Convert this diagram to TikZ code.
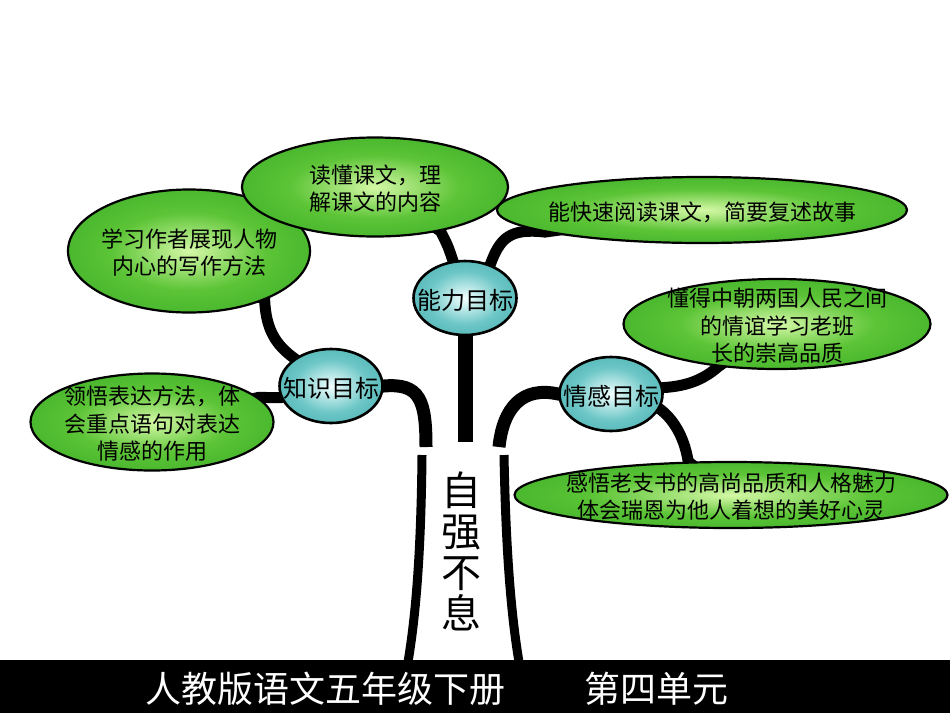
\documentclass[tikz,border=0pt]{standalone}
\usepackage{fontspec}
\usepackage{xcolor}
\setmainfont{Noto Sans CJK SC}
\usetikzlibrary{shapes.geometric,backgrounds}
\definecolor{leaflight}{HTML}{D4F8A6}
\definecolor{leafmid}{HTML}{5CC436}
\definecolor{leafgreen}{HTML}{1A961A}
\definecolor{goallight}{HTML}{F2FFFF}
\definecolor{goalmid}{HTML}{6CC6C6}
\definecolor{goalteal}{HTML}{229696}
\pgfdeclareradialshading{leafshade}{\pgfpoint{0bp}{0bp}}{%
  color(0bp)=(leaflight); color(16bp)=(leafmid); color(50bp)=(leafgreen)}
\pgfdeclareradialshading{goalshade}{\pgfpoint{0bp}{0bp}}{%
  color(0bp)=(goallight); color(18bp)=(goalmid); color(50bp)=(goalteal)}
% text that does not widen the ellipse
\newcommand{\inset}[1]{\makebox[0pt]{\smash{\raisebox{-0.45em}{\begin{tabular}{@{}c@{}}#1\end{tabular}}}}}

\begin{document}
\begin{tikzpicture}[
        x=1pt, y=-1pt,
        leaf/.style={
          ellipse,
          draw,
          line width=2.2pt,
          shading=leafshade,
          inner sep=0pt,
          font=\fontsize{22}{27.5}\selectfont
        },
        goal/.style={
          ellipse,
          draw,
          line width=2.6pt,
          shading=goalshade,
          inner sep=0pt,
          minimum width=103pt,
          minimum height=74pt,
          font=\fontsize{24}{24}\selectfont
        },
        stem/.style={
          line width=11pt
        },
        branch/.style={
          line width=13pt
        },
        trunk/.style={
          line width=9pt
        }
      ]

      \useasboundingbox (0,0) rectangle (950,713);

      % leaves
      \node[leaf, minimum width=242pt, minimum height=123pt] (xuexi) at (189,251) {
        \inset{学习作者展现人物\\内心的写作方法}
      };

      \node[leaf, minimum width=410pt, minimum height=66pt] (kuaisu) at (702,210) {
        \inset{能快速阅读课文，简要复述故事}
      };

      \node[leaf, minimum width=266pt, minimum height=99pt] (dudong) at (375,187) {
        \inset{读懂课文，理\\解课文的内容}
      };

      \node[leaf, minimum width=243pt, minimum height=97pt] (lingwu) at (152,422) {
        \inset{领悟表达方法，体\\会重点语句对表达\\情感的作用}
      };

      \node[leaf, minimum width=307pt, minimum height=90pt] (dongde) at (777,324) {
        \inset{懂得中朝两国人民之间\\的情谊学习老班\\长的崇高品质}
      };

      \node[leaf, minimum width=433pt, minimum height=66pt] (ganwu) at (731,495) {
        \inset{感悟老支书的高尚品质和人格魅力\\体会瑞恩为他人着想的美好心灵}
      };

      % goals
      \node[goal] (nengli) at (465,298) {\inset{能力目标}};
      \node[goal] (zhishi) at (331,386) {\inset{知识目标}};
      \node[goal] (qinggan) at (611,394) {\inset{情感目标}};

      % trunk ends
      \coordinate (lend) at (426,447);
      \coordinate (mend) at (465,442);
      \coordinate (rend) at (499,447);
      \coordinate (ltop) at (422,455);
      \coordinate (lfoot) at (408,662);
      \coordinate (rtop) at (504,455);
      \coordinate (rfoot) at (519,662);

      \node[font=\fontsize{40}{41}\selectfont, align=center] (motto) at (461,551) {
        自\\强\\不\\息
      };

      \begin{pgfonlayer}{background}
        \fill[white] (0,0) rectangle (950,713);

        \draw[stem] (nengli.center) -- (nengli.108) .. controls (448,246) .. (dudong.-34) -- (dudong.center);
        \draw[stem] (nengli.center) -- (nengli.53) .. controls (500,238) and (510,228) .. (kuaisu.188) -- (kuaisu.center);
        \draw[stem] (zhishi.center) -- (zhishi.143) .. controls (276,345) and (266,330) .. (xuexi.-33) -- (xuexi.center);
        \draw[stem] (zhishi.center) -- (zhishi.193) -- (lingwu.13) -- (lingwu.center);
        \draw[stem] (qinggan.center) -- (qinggan.7) .. controls (690,386) and (705,378) .. (dongde.216) -- (dongde.center);
        \draw[stem] (qinggan.center) -- (qinggan.-17) .. controls (672,418) and (684,435) .. (ganwu.142) -- (ganwu.center);

        \draw[branch] (zhishi.center) -- (zhishi.east) .. controls (420,383) and (426,400) .. (lend);
        \draw[branch, line width=15pt] (nengli.center) -- (mend);
        \draw[branch] (qinggan.center) -- (qinggan.west) .. controls (522,386) and (503,408) .. (rend);

        \draw[trunk] (ltop) .. controls (421,560) and (415,620) .. (lfoot);
        \draw[trunk] (rtop) .. controls (506,560) and (512,620) .. (rfoot);
      \end{pgfonlayer}

      % title bar
      \node[fill=black, minimum width=950pt, minimum height=53pt, inner sep=0pt, anchor=north west] (bar) at (0,660) {};
      \node[text=white, font=\fontsize{36}{36}\selectfont] (title) at (437,689) {
        人教版语文五年级下册\hspace{2.2em}第四单元
      };

      \end{tikzpicture}
\end{document}
